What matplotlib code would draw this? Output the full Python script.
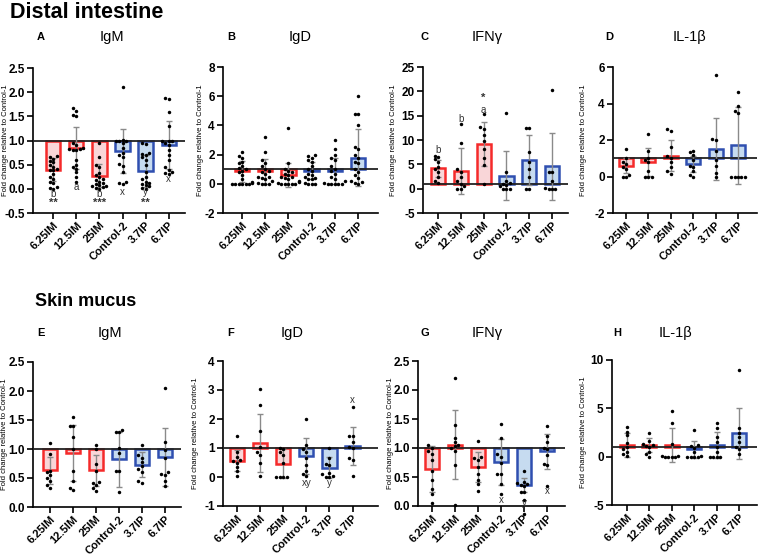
import matplotlib
matplotlib.use('Agg')
import matplotlib.pyplot as plt
import numpy as np

plt.rcParams['font.family'] = ['Liberation Sans', 'DejaVu Sans']

groups = ['6.25IM', '12.5IM', '25IM', 'Control-2', '3.7IP', '6.7IP']

# ---- Distal intestine ----
di_igm_mean = [0.40, 0.85, 0.27, 0.78, 0.37, 0.91]
di_igm_sd = [0.23, 0.43, 0.24, 0.45, 0.33, 0.50]
di_igm_pts = [
    [0.68, 0.66, 0.62, 0.58, 0.55, 0.5, 0.45, 0.42, 0.4, 0.38, 0.3, 0.25, 0.2, 0.15, 0.12, 0.03, 0.02, 0.0],
    [1.68, 1.62, 1.52, 1.5, 0.95, 0.9, 0.85, 0.82, 0.82, 0.8, 0.8, 0.6, 0.5, 0.45, 0.42, 0.35, 0.25, 0.15],
    [0.95, 0.65, 0.5, 0.45, 0.32, 0.28, 0.25, 0.2, 0.18, 0.15, 0.12, 0.1, 0.08, 0.06, 0.05, 0.03, 0.02, 0.0],
    [2.1, 1.02, 1.0, 0.98, 0.98, 0.95, 0.85, 0.75, 0.7, 0.65, 0.52, 0.48, 0.35, 0.15, 0.12, 0.1],
    [0.95, 0.92, 0.75, 0.72, 0.7, 0.65, 0.6, 0.5, 0.35, 0.25, 0.2, 0.15, 0.12, 0.1, 0.08, 0.05, 0.02, 0.0],
    [1.88, 1.85, 1.6, 1.3, 1.0, 1.0, 0.98, 0.95, 0.9, 0.8, 0.7, 0.6, 0.45, 0.4, 0.35, 0.33, 0.3],
]
di_igd_mean = [0.85, 0.85, 0.6, 0.9, 0.9, 1.8]
di_igd_sd = [0.7, 0.85, 0.85, 0.6, 0.9, 1.95]
di_igd_pts = [
    [2.2, 1.9, 1.8, 1.5, 1.4, 1.2, 1.1, 1.0, 0.9, 0.8, 0.6, 0.3, 0.1, 0.05, 0, 0, 0, 0, 0, 0],
    [3.2, 2.2, 1.6, 1.4, 1.2, 1.0, 0.9, 0.8, 0.7, 0.5, 0.5, 0.4, 0.3, 0.2, 0.05, 0, 0, 0],
    [3.8, 1.4, 1.0, 0.9, 0.8, 0.7, 0.6, 0.5, 0.5, 0.4, 0.3, 0.2, 0.1, 0.05, 0, 0, 0, 0, 0],
    [2.0, 1.9, 1.8, 1.6, 1.5, 1.2, 1.0, 0.9, 0.7, 0.6, 0.5, 0.4, 0.3, 0.3, 0.05, 0, 0, 0],
    [3.0, 2.4, 2.0, 1.8, 1.6, 1.2, 1.0, 0.9, 0.7, 0.5, 0.3, 0.2, 0.05, 0, 0, 0, 0, 0],
    [6.0, 4.8, 4.75, 4.0, 2.5, 2.4, 2.0, 1.8, 1.5, 1.4, 1.0, 0.8, 0.6, 0.4, 0.2, 0.1, 0.05, 0],
]
di_ifn_mean = [4.2, 3.7, 9.1, 2.7, 5.9, 4.6]
di_ifn_sd = [1.7, 4.7, 4.5, 5.0, 5.1, 6.9]
di_ifn_pts = [
    [6.8, 6.5, 6.0, 5.5, 4.5, 4.0, 3.5, 2.5, 1.5, 1.2],
    [13.2, 9.3, 4.0, 3.5, 2.5, 1.5, 1.0, 0.5, 0.0, 0.0],
    [15.3, 12.6, 12.3, 11.0, 9.8, 8.2, 6.2, 4.8, 1.0],
    [15.5, 3.5, 1.5, 1.2, 1.0, 0.8, 0.5, 0.0, 0.0, 0.0],
    [12.5, 12.5, 7.5, 5.5, 4.0, 2.5, 0.0, 0.0],
    [20.3, 3.5, 3.5, 1.5, 0.2, 0.0, 0.0, 0.0],
]
di_il1_mean = [0.6, 0.8, 1.15, 0.7, 1.5, 1.7]
di_il1_sd = [0.4, 0.75, 0.85, 0.45, 1.7, 2.1]
di_il1_pts = [
    [1.5, 1.0, 0.8, 0.7, 0.5, 0.4, 0.1, 0.0, 0.0],
    [2.35, 1.4, 1.0, 0.9, 0.8, 0.3, 0.0, 0.0, 0.0],
    [2.6, 2.5, 1.6, 1.1, 1.0, 0.8, 0.5, 0.3, 0.15],
    [1.4, 1.35, 1.2, 0.9, 0.6, 0.5, 0.3, 0.1, 0.0],
    [5.55, 2.05, 2.0, 1.4, 0.9, 0.6, 0.2, 0.0],
    [4.65, 3.85, 3.6, 3.5, 0.0, 0.0, 0.0, 0.0, 0.0],
]

# ---- Skin mucus ----
sm_igm_mean = [0.63, 0.93, 0.63, 0.82, 0.73, 0.87]
sm_igm_sd = [0.24, 0.48, 0.27, 0.48, 0.21, 0.50]
sm_igm_pts = [
    [1.1, 0.92, 0.62, 0.6, 0.55, 0.5, 0.45, 0.38, 0.33],
    [1.55, 1.4, 1.4, 1.2, 1.0, 0.62, 0.45, 0.3, 0.32],
    [1.07, 1.0, 0.75, 0.62, 0.43, 0.42, 0.38, 0.33, 0.28],
    [1.32, 1.3, 1.3, 1.02, 0.93, 0.62, 0.62, 0.26],
    [1.07, 0.9, 0.85, 0.78, 0.7, 0.65, 0.6, 0.45, 0.42],
    [2.05, 1.12, 0.98, 0.85, 0.6, 0.57, 0.55, 0.45, 0.37],
]
sm_igd_mean = [0.56, 1.16, 0.45, 0.74, 0.32, 1.08]
sm_igd_sd = [0.37, 1.0, 0.5, 0.62, 0.36, 0.66]
sm_igd_pts = [
    [1.4, 0.85, 0.7, 0.6, 0.55, 0.5, 0.35, 0.2, 0.05],
    [3.05, 2.5, 1.6, 1.05, 0.85, 0.75, 0.5, 0.05],
    [1.0, 0.95, 0.85, 0.75, 0.5, 0.0, 0.0, 0.0, 0.0],
    [2.0, 1.1, 0.95, 0.85, 0.65, 0.4, 0.2, 0.1, 0.05],
    [1.0, 0.65, 0.45, 0.4, 0.15, 0.1, 0.05, 0.0, 0.0],
    [2.4, 1.4, 1.4, 1.2, 1.05, 1.0, 0.65, 0.6, 0.05],
]
sm_ifn_mean = [0.64, 1.06, 0.67, 0.76, 0.37, 0.94]
sm_ifn_sd = [0.39, 0.59, 0.26, 0.39, 0.12, 0.31]
sm_ifn_pts = [
    [1.05, 1.0, 0.95, 0.9, 0.8, 0.6, 0.45, 0.3, 0.2, 0.05],
    [2.2, 1.4, 1.17, 1.1, 1.05, 1.03, 1.0, 0.95, 0.7, 0.02],
    [1.12, 0.85, 0.82, 0.8, 0.68, 0.55, 0.45, 0.38, 0.26],
    [1.42, 1.17, 0.9, 0.85, 0.75, 0.55, 0.55, 0.38, 0.2],
    [0.6, 0.42, 0.4, 0.38, 0.37, 0.35, 0.25, 0.24, 0.1, -0.14],
    [1.38, 1.2, 1.1, 1.0, 0.98, 0.88, 0.72, 0.7, 0.35],
]
sm_il1_mean = [1.2, 1.2, 1.2, 0.75, 1.25, 2.4]
sm_il1_sd = [1.2, 0.7, 1.8, 0.9, 1.35, 2.6]
sm_il1_pts = [
    [3.1, 2.6, 2.2, 1.4, 1.0, 0.8, 0.5, 0.3, 0.1],
    [2.4, 1.6, 1.3, 1.2, 1.1, 1.0, 0.5, 0.3, 0.0],
    [4.7, 3.5, 1.3, 0.1, 0.05, 0.0, 0.0, 0.0, 0.0],
    [2.8, 1.2, 1.1, 0.9, 0.5, 0.1, 0.0, 0.0, 0.0, 0.0],
    [3.5, 3.0, 2.0, 1.5, 1.0, 0.5, 0.0, 0.0, 0.0, 0.0],
    [9.0, 3.0, 2.5, 2.0, 1.5, 1.0, 0.8, 0.3],
]

# significance letters: (group index, y, text)
di_igm_sig = [(0, -0.1, 'b'), (0, -0.3, '**'), (1, 0.04, 'a'), (2, -0.1, 'b'), (2, -0.3, '***'),
              (3, -0.07, 'x'), (4, -0.07, 'y'), (4, -0.3, '**'), (5, 0.2, 'x')]
di_ifn_sig = [(0, 7.9, 'b'), (1, 14.4, 'b'), (2, 16.2, 'a'), (2, 18.6, '*')]
sm_igd_sig = [(3, -0.2, 'xy'), (4, -0.2, 'y'), (5, 2.65, 'x')]
sm_ifn_sig = [(3, 0.1, 'x'), (4, 0.06, 'y'), (5, 0.25, 'x')]

edge = ['#f52a2a'] * 3 + ['#2f4fb0'] * 3
fill = ['#f9d6d8'] * 3 + ['#c6dbf0'] * 3

W, H = 758, 557
fig = plt.figure(figsize=(W / 100, H / 100), dpi=100)

# (letter, title, mean, sd, pts, sig, ylim, ystep, fmt, box px (l, r, t, b), xlim, ylabel x px, letter x, title x, title y)
panels = [
    ('A', 'IgM', di_igm_mean, di_igm_sd, di_igm_pts, di_igm_sig, (-0.5, 2.5), 0.5, '%.1f', (33, 185, 68, 213), (-0.87, 5.7), 9, 37, 112, 37),
    ('B', 'IgD', di_igd_mean, di_igd_sd, di_igd_pts, [], (-2, 8), 2, '%d', (223, 378, 67, 213), (-0.82, 5.86), 204, 227, 300, 37),
    ('C', 'IFNγ', di_ifn_mean, di_ifn_sd, di_ifn_pts, di_ifn_sig, (-5, 25), 5, '%d', (423, 568, 67, 213), (-0.66, 5.7), 397, 420, 487, 37),
    ('D', 'IL-1β', di_il1_mean, di_il1_sd, di_il1_pts, [], (-2, 6), 2, '%d', (613, 757, 67, 213), (-0.58, 5.85), 587, 605, 690, 37),
    ('E', 'IgM', sm_igm_mean, sm_igm_sd, sm_igm_pts, [], (0, 2.5), 0.5, '%.1f', (33, 181, 362, 507), (-0.74, 5.7), 8, 37, 110, 333),
    ('F', 'IgD', sm_igd_mean, sm_igd_sd, sm_igd_pts, sm_igd_sig, (-1, 4), 1, '%d', (223, 378, 361, 506), (-0.6, 6.1), 199, 227, 292, 333),
    ('G', 'IFNγ', sm_ifn_mean, sm_ifn_sd, sm_ifn_pts, sm_ifn_sig, (0, 2.5), 0.5, '%.1f', (418, 565, 361, 506), (-0.6, 5.78), 394, 420, 487, 333),
    ('H', 'IL-1β', sm_il1_mean, sm_il1_sd, sm_il1_pts, [], (-5, 10), 5, '%d', (612, 757, 360, 505), (-0.66, 5.8), 587, 613, 675, 333),
]


def swarm(vals, ppx, ppy, r=3.3, step=0.15, maxoff=0.45):
    # simple deterministic beeswarm offsets
    cands = [0.0]
    k = 1
    while k * step <= maxoff + 1e-9:
        cands += [-k * step, k * step]
        k += 1
    placed = []
    res = np.zeros(len(vals))
    for idx in np.argsort(vals):
        v = vals[idx]
        chosen = cands[-1]
        for c in cands:
            if all(((c - a) * ppx) ** 2 + ((v - b) * ppy) ** 2 >= r * r for a, b in placed):
                chosen = c
                break
        placed.append((chosen, v))
        res[idx] = chosen
    return res


for (letter, title, mean, sd, pts, sig, ylim, ystep, fmt, box, xlim, ylx, lx, tx, ty) in panels:
    l, r, t, b = box
    ax = fig.add_axes([l / W, 1 - b / H, (r - l) / W, (b - t) / H])
    x = np.arange(len(groups))
    ax.bar(x, np.array(mean) - 1, bottom=1, width=0.62, color=fill, edgecolor=edge, linewidth=1.8, zorder=2)
    ax.axhline(1, color='#222222', lw=1.3, zorder=3)
    ax.errorbar(x, mean, yerr=sd, fmt='none', ecolor='#8a8a8a', elinewidth=1.0, capsize=2.5, capthick=1.0, zorder=4)
    ppx = (r - l) / (xlim[1] - xlim[0])
    ppy = (b - t) / (ylim[1] - ylim[0])
    for i, p in enumerate(pts):
        p = np.array(p, dtype=float)
        off = swarm(p, ppx, ppy)
        ax.plot(i + off, p, 'o', color='black', markersize=2.5, markeredgewidth=0, zorder=5, clip_on=False)
    for gi, yv, s in sig:
        bold = '*' in s
        ax.text(gi, yv, s, ha='center', va='center', fontsize=8 if bold else 7,
                fontweight='bold' if bold else 'normal', color='#333333', zorder=6)
    ax.set_xlim(*xlim)
    ax.set_ylim(*ylim)
    ax.set_yticks(np.arange(ylim[0], ylim[1] + ystep / 2, ystep))
    ax.yaxis.set_major_formatter(matplotlib.ticker.FormatStrFormatter(fmt))
    ax.set_xticks(x)
    ax.set_xticklabels(groups, rotation=45, ha='right', rotation_mode='anchor', fontweight='bold', fontsize=8)
    for lab in ax.get_yticklabels():
        lab.set_fontweight('bold')
        lab.set_fontsize(8.5)
    ax.spines['top'].set_visible(False)
    ax.spines['right'].set_visible(False)
    ax.spines['left'].set_linewidth(1.2)
    ax.spines['bottom'].set_linewidth(1.2)
    ax.tick_params(width=1.2, length=4, pad=2)
    ax.tick_params(axis='x', pad=1)
    ax.set_ylabel('Fold change relative to Control-1', fontsize=5.5)
    ax.yaxis.set_label_coords((ylx - l) / (r - l), 0.5)
    fig.text(lx / W, 1 - ty / H, letter, ha='left', va='center', fontsize=8, fontweight='bold')
    fig.text(tx / W, 1 - ty / H, title, ha='center', va='center', fontsize=10.5)

fig.text(10 / W, 1 - 13 / H, 'Distal intestine', ha='left', va='center', fontsize=15.5, fontweight='bold')
fig.text(35 / W, 1 - 301 / H, 'Skin mucus', ha='left', va='center', fontsize=13, fontweight='bold')

fig.savefig('out.png', dpi=100)
